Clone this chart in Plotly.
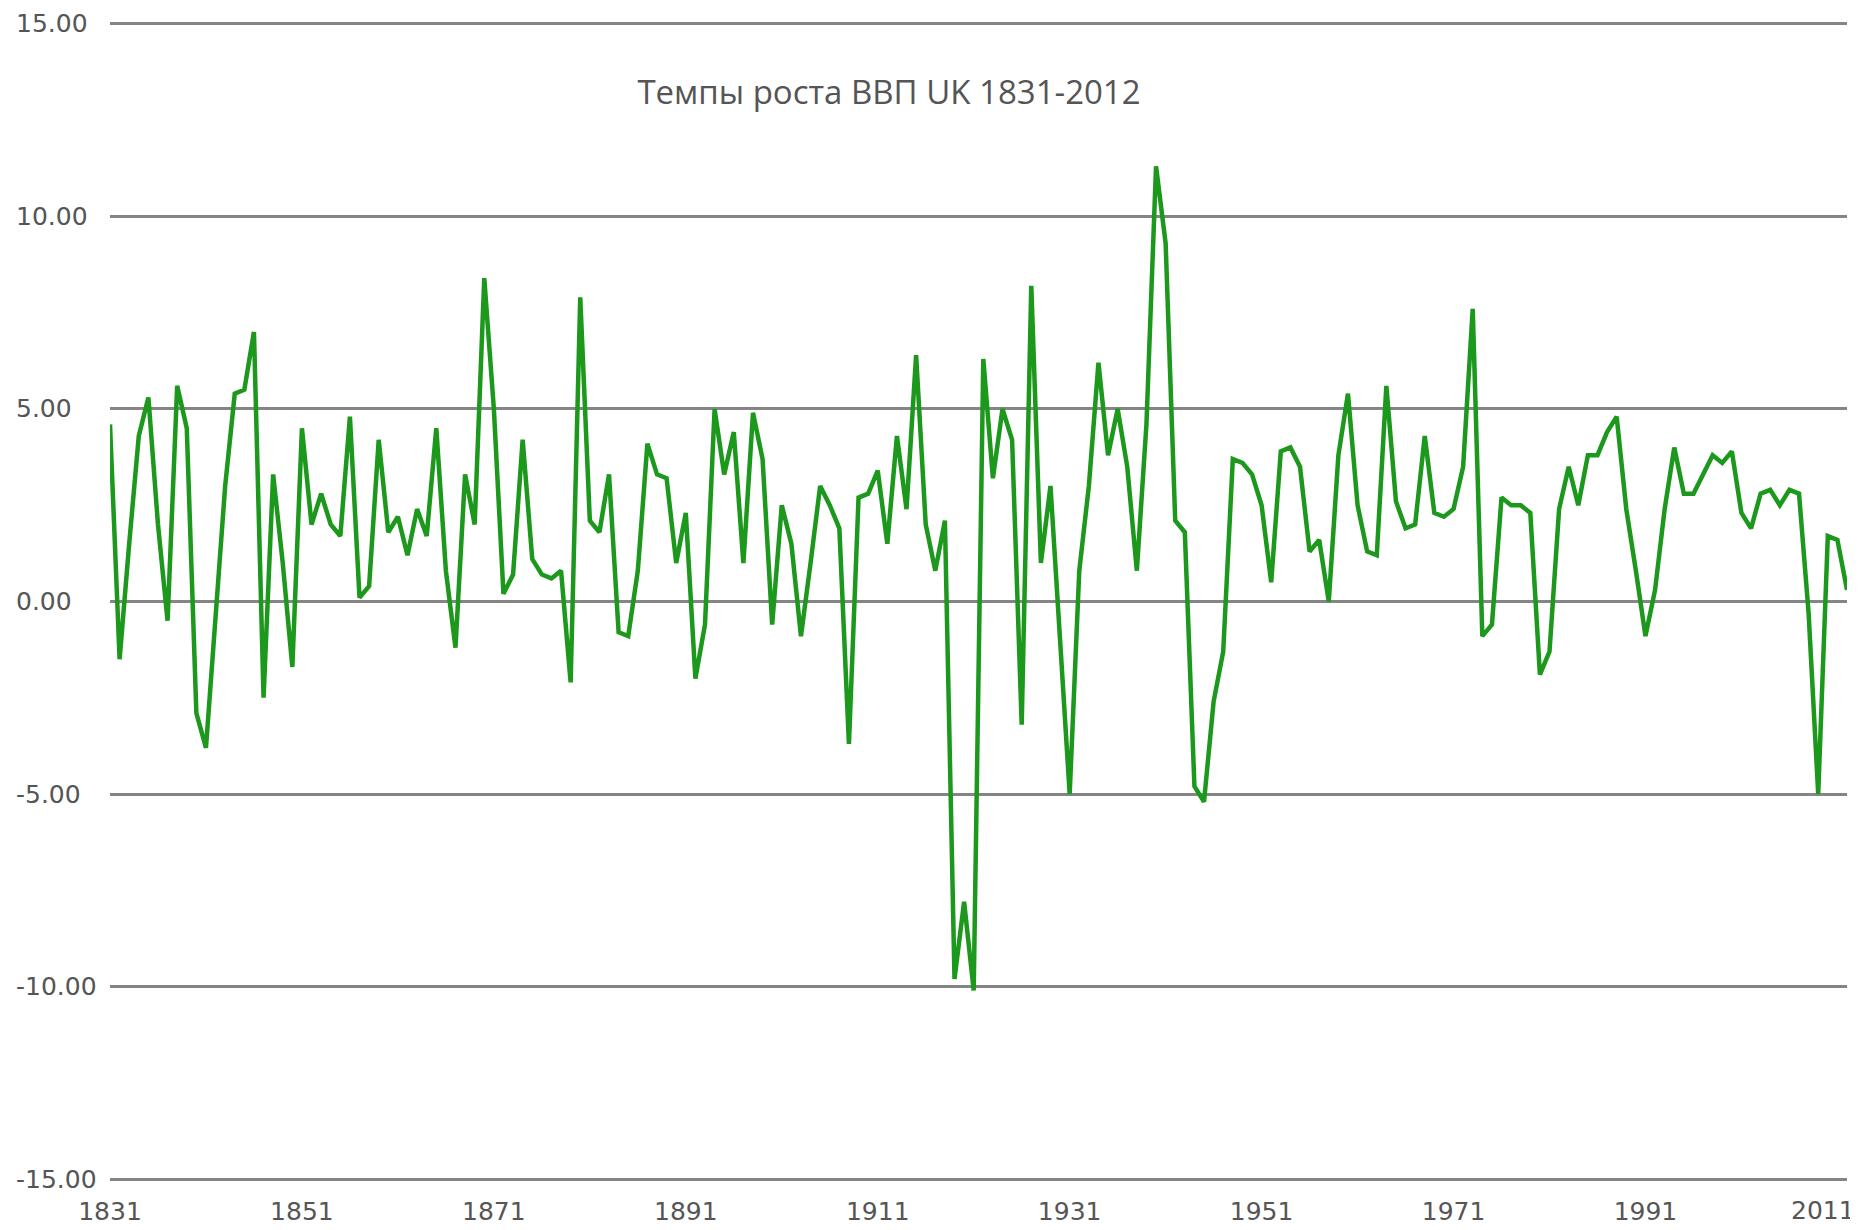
import plotly.graph_objects as go

years = list(range(1831, 2013))

growth = [
    4.6, -1.5, 1.5, 4.3, 5.3, 2.0, -0.5, 5.6, 4.5, -2.9,   # 1831-1840
    -3.8, -0.5, 3.0, 5.4, 5.5, 7.0, -2.5, 3.3, 1.0, -1.7,  # 1841-1850
    4.5, 2.0, 2.8, 2.0, 1.7, 4.8, 0.1, 0.4, 4.2, 1.8,      # 1851-1860
    2.2, 1.2, 2.4, 1.7, 4.5, 0.8, -1.2, 3.3, 2.0, 8.4,     # 1861-1870
    5.0, 0.2, 0.7, 4.2, 1.1, 0.7, 0.6, 0.8, -2.1, 7.9,     # 1871-1880
    2.1, 1.8, 3.3, -0.8, -0.9, 0.8, 4.1, 3.3, 3.2, 1.0,    # 1881-1890
    2.3, -2.0, -0.6, 5.0, 3.3, 4.4, 1.0, 4.9, 3.7, -0.6,   # 1891-1900
    2.5, 1.5, -0.9, 1.0, 3.0, 2.5, 1.9, -3.7, 2.7, 2.8,    # 1901-1910
    3.4, 1.5, 4.3, 2.4, 6.4, 2.0, 0.8, 2.1, -9.8, -7.8,    # 1911-1920
    -10.1, 6.3, 3.2, 5.0, 4.2, -3.2, 8.2, 1.0, 3.0, -1.0,  # 1921-1930
    -5.0, 0.8, 3.0, 6.2, 3.8, 5.0, 3.5, 0.8, 4.6, 11.3,    # 1931-1940
    9.3, 2.1, 1.8, -4.8, -5.2, -2.6, -1.3, 3.7, 3.6, 3.3,  # 1941-1950
    2.5, 0.5, 3.9, 4.0, 3.5, 1.3, 1.6, 0.0, 3.8, 5.4,      # 1951-1960
    2.5, 1.3, 1.2, 5.6, 2.6, 1.9, 2.0, 4.3, 2.3, 2.2,      # 1961-1970
    2.4, 3.5, 7.6, -0.9, -0.6, 2.7, 2.5, 2.5, 2.3, -1.9,   # 1971-1980
    -1.3, 2.4, 3.5, 2.5, 3.8, 3.8, 4.4, 4.8, 2.4, 0.8,     # 1981-1990
    -0.9, 0.3, 2.4, 4.0, 2.8, 2.8, 3.3, 3.8, 3.6, 3.9,     # 1991-2000
    2.3, 1.9, 2.8, 2.9, 2.5, 2.9, 2.8, -0.3, -5.0, 1.7,    # 2001-2010
    1.6, 0.3,                                              # 2011-2012
]

x_tick_years = [1831, 1851, 1871, 1891, 1911, 1931, 1951, 1971, 1991]
last_tick_year = 2011
y_tick_vals = [-15, -10, -5, 0, 5, 10, 15]
y_tick_text = ["-15.00", "-10.00", "-5.00", "0.00", "5.00", "10.00", "15.00"]

title_text = "Темпы роста ВВП UK 1831-2012"

TICK_FONT = dict(family="DejaVu Sans", size=25, color="#555555")

fig = go.Figure()
fig.add_trace(go.Scatter(
    x=years, y=growth, mode="lines",
    line=dict(color="#1c981c", width=4.5),
    hoverinfo="x+y",
))

W, H = 1850, 1222
L = 102
fig.update_layout(
    width=W, height=H,
    margin=dict(l=L, r=11, t=14, b=49),
    paper_bgcolor="white", plot_bgcolor="white",
    showlegend=False,
    title=dict(
        text=title_text,
        x=881 / W, xref="container", xanchor="center",
        y=1 - 84 / H, yref="container", yanchor="middle",
        font=dict(family="Open Sans", size=33, color="#555555"),
    ),
    font=TICK_FONT,
)

# y-axis labels are left-aligned in the reference, so draw them as annotations
for v, t in zip(y_tick_vals, y_tick_text):
    fig.add_annotation(
        x=0, xref="paper", y=v, yref="y",
        xanchor="left", yanchor="middle", xshift=-(L - 6),
        text=t, showarrow=False, font=TICK_FONT,
    )

# last x label (partly beyond the right edge in the reference)
fig.add_annotation(
    x=last_tick_year, xref="x", y=0, yref="paper",
    yanchor="top", xanchor="center", yshift=-13, xshift=-14,
    text=str(last_tick_year), showarrow=False, font=TICK_FONT,
)

fig.update_xaxes(
    range=[1831, 2012],
    tickmode="array", tickvals=x_tick_years,
    ticktext=[str(y) for y in x_tick_years],
    showgrid=False, zeroline=False, showline=False,
    ticks="", ticklabelstandoff=13, automargin=False,
    tickfont=TICK_FONT,
)
fig.update_yaxes(
    range=[-15.05, 15.05],
    tickmode="array", tickvals=y_tick_vals, showticklabels=False,
    showgrid=True, gridcolor="#858585", gridwidth=2.5,
    zeroline=False, showline=False, ticks="", automargin=False,
)

fig.write_html("out.html")
